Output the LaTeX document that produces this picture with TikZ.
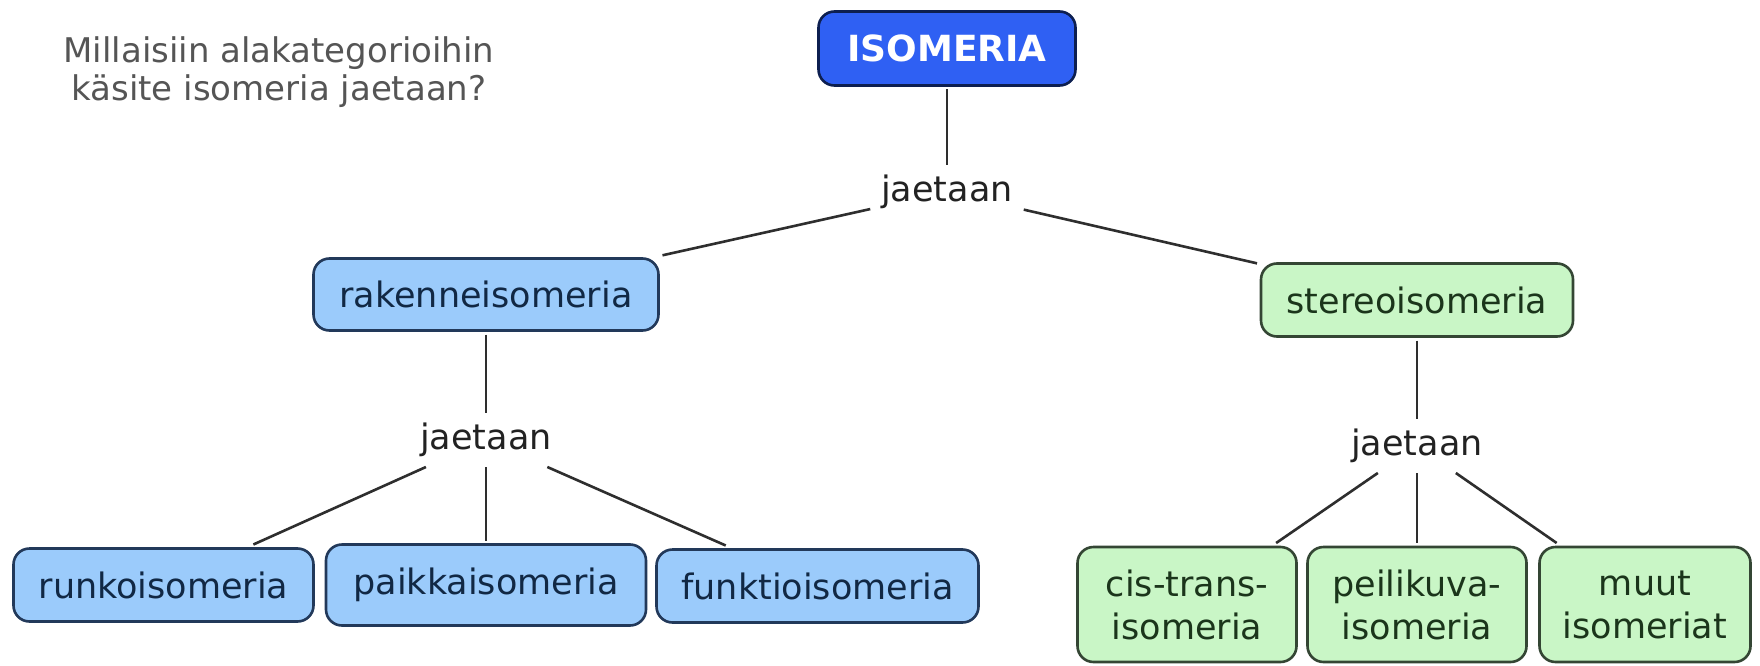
\documentclass[tikz,border=0pt]{standalone}
\usepackage{fontspec}
\setmainfont{DejaVu Sans}
\definecolor{linec}{HTML}{2E2E2E}
\definecolor{isofill}{HTML}{2F60F3}
\definecolor{isoborder}{HTML}{0D1F50}
\definecolor{bluefill}{HTML}{9BCBFB}
\definecolor{blueborder}{HTML}{22395A}
\definecolor{bluetext}{HTML}{112844}
\definecolor{greenfill}{HTML}{C9F6C6}
\definecolor{greenborder}{HTML}{344634}
\definecolor{greentext}{HTML}{1B351B}
\definecolor{questc}{HTML}{555555}
\definecolor{lblc}{HTML}{222222}
\tikzset{
  conn/.style={draw=linec, line width=2.6pt},
  lbl/.style={font=\fontsize{35}{40}\selectfont, text=lblc, inner xsep=11pt, inner ysep=0pt,
    minimum height=54pt, text height=26.6pt, text depth=7pt, outer sep=0pt},
  boxbase/.style={rounded corners=16pt, line width=2.6pt, inner sep=0pt, outer sep=4pt,
    align=center, font=\fontsize{35}{43}\selectfont},
  bluebox/.style={boxbase, draw=blueborder, fill=bluefill, text=bluetext},
  greenbox/.style={boxbase, draw=greenborder, fill=greenfill, text=greentext},
  isobox/.style={boxbase, draw=isoborder, fill=isofill, text=white, font=\fontsize{36}{40}\selectfont\bfseries},
  quest/.style={font=\fontsize{34}{38}\selectfont, text=questc, align=center, inner sep=0pt}
}
\begin{document}
\begin{tikzpicture}[x=1pt,y=-1pt]
\useasboundingbox[fill=white] (0,0) rectangle (1760,666);
% question
\node[quest, anchor=north] (q) at (279,36) {Millaisiin alakategorioihin\\käsite isomeria jaetaan?};
% concepts
\node[isobox, minimum width=257pt, minimum height=74pt] (iso) at (947,48.5) {ISOMERIA};
\node[bluebox, minimum width=345pt, minimum height=72pt] (rak) at (486,294.5) {rakenneisomeria};
\node[greenbox, minimum width=312pt, minimum height=73pt] (ste) at (1417,300) {stereoisomeria};
\node[bluebox, minimum width=300pt, minimum height=73pt] (runko) at (163.5,585) {runkoisomeria};
\node[bluebox, minimum width=320pt, minimum height=81pt] (paikka) at (486,585) {paikkaisomeria};
\node[bluebox, minimum width=322pt, minimum height=73pt] (funktio) at (817.5,586) {funktioisomeria};
\node[greenbox, minimum width=219pt, minimum height=115pt] (cis) at (1187,604.5) {cis-trans-\\isomeria};
\node[greenbox, minimum width=219pt, minimum height=115pt] (peili) at (1417,604.5) {peilikuva-\\isomeria};
\node[greenbox, minimum width=211pt, minimum height=115pt] (muut) at (1645,604.5) {muut\\isomeriat};
% linking phrases
\node[lbl] (l1) at (947,192) {jaetaan};
\node[lbl] (l2) at (486,440) {jaetaan};
\node[lbl] (l3) at (1417,446) {jaetaan};
% connectors
\draw[conn] (iso) -- (l1);
\draw[conn] (l1) -- (rak);
\draw[conn] (l1) -- (ste);
\draw[conn] (rak) -- (l2);
\draw[conn] (l2) -- (runko);
\draw[conn] (l2) -- (paikka);
\draw[conn] (l2) -- (funktio);
\draw[conn] (ste) -- (l3);
\draw[conn] (l3) -- (cis);
\draw[conn] (l3) -- (peili);
\draw[conn] (l3) -- (muut);
\end{tikzpicture}
\end{document}
